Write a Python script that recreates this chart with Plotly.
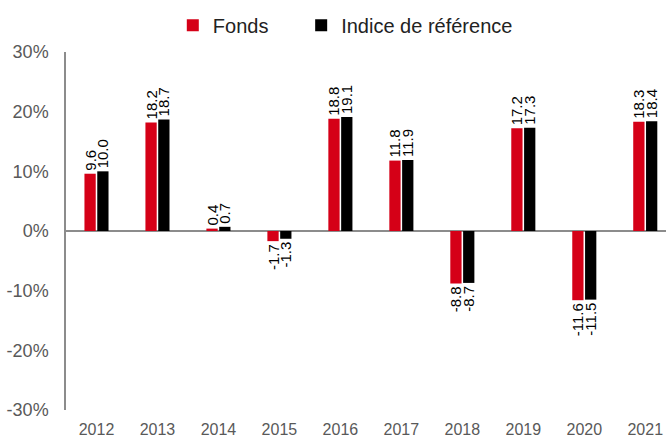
import plotly.graph_objects as go

years = ["2012", "2013", "2014", "2015", "2016", "2017", "2018", "2019", "2020", "2021"]
fonds = [9.6, 18.2, 0.4, -1.7, 18.8, 11.8, -8.8, 17.2, -11.6, 18.3]
indice = [10.0, 18.7, 0.7, -1.3, 19.1, 11.9, -8.7, 17.3, -11.5, 18.4]
y_ticks = [-30, -20, -10, 0, 10, 20, 30]
y_tick_labels = ["-30%", "-20%", "-10%", "0%", "10%", "20%", "30%"]
series_names = ["Fonds", "Indice de référence"]

FONT = "Liberation Sans Narrow, Arial Narrow, Liberation Sans, Arial"
RED = "#D50017"
BLACK = "#000000"
GREY = "#8C8C8C"

fig = go.Figure()
for name, vals, col, pad in [(series_names[0], fonds, RED, 5),
                             (series_names[1], indice, BLACK, 0)]:
    fig.add_trace(go.Bar(
        x=years, y=vals, name=name + "\u00a0" * pad,
        marker=dict(color=col, line=dict(width=0)),
        text=[f"{v:.1f}" for v in vals], textposition="outside", textangle=-90,
        textfont=dict(family=FONT, size=15, color="#000000"),
        constraintext="none", cliponaxis=False,
    ))

fig.update_layout(
    width=666, height=437,
    margin=dict(l=66, r=0, t=52, b=27, autoexpand=False),
    paper_bgcolor="white", plot_bgcolor="white",
    barmode="group", bargap=0.58, bargroupgap=0.12,
    font=dict(family=FONT, color="#595959"),
    legend=dict(orientation="h", xanchor="left", x=0.178, y=1.075, yanchor="middle",
                font=dict(family=FONT, size=20, color="#222222"),
                itemwidth=30, bgcolor="rgba(0,0,0,0)", traceorder="normal"),
    xaxis=dict(range=[-0.5, 9.34], showline=False, ticks="", showgrid=False,
               tickfont=dict(family=FONT, size=16, color="#595959"),
               ticklabelstandoff=8),
    yaxis=dict(range=[-30, 30], tickvals=y_ticks, ticktext=y_tick_labels,
               showline=True, linecolor=GREY, linewidth=1.5, showgrid=False,
               zeroline=True, zerolinecolor=GREY, zerolinewidth=1.5,
               ticks="", ticklabelstandoff=12,
               tickfont=dict(family=FONT, size=18, color="#595959")),
)

fig.write_html("out.html")
